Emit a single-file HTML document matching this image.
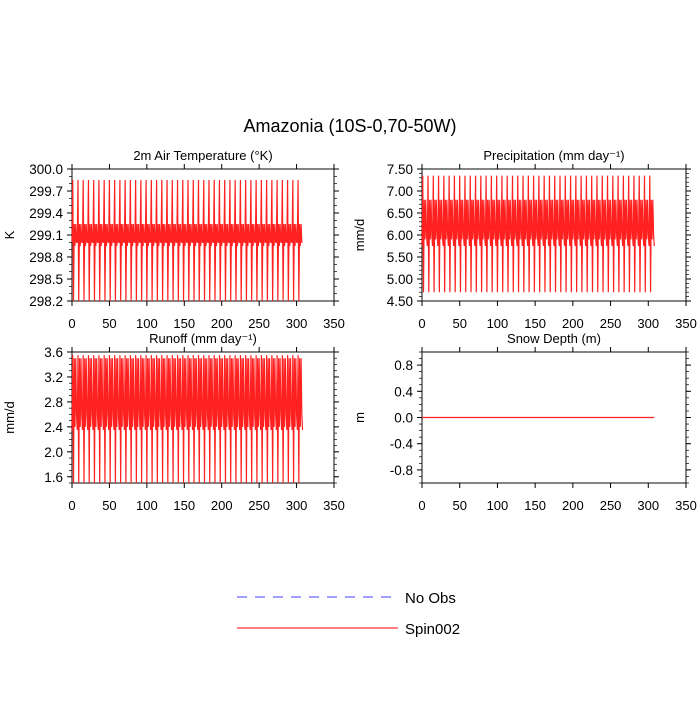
<!DOCTYPE html>
<html><head><meta charset="utf-8"><style>
body{margin:0;background:#fff;}
svg{font-family:"Liberation Sans",Arial,sans-serif;}
</style></head><body>
<svg id="chart" width="700" height="700" viewBox="0 0 700 700">
<rect width="700" height="700" fill="#fff"/>
<text x="350" y="132" font-size="18" text-anchor="middle">Amazonia (10S-0,70-50W)</text>
<g>
<line x1="237" y1="597" x2="393" y2="597" stroke="#4040ff" stroke-width="1" stroke-dasharray="10,8"/>
<text x="405" y="603" font-size="15">No Obs</text>
<line x1="237" y1="628" x2="398" y2="628" stroke="#ff0000" stroke-width="1"/>
<text x="405" y="634" font-size="15">Spin002</text>
</g>
</svg>
<script>
const xTicks=[0,50,100,150,200,250,300,350];
const nPoints=309;
const tempCycle=[299.0,299.85,298.2,299.25,298.95,299.25,299.0];
const precipCycle=[5.75,7.35,4.7,6.8,5.9,6.8,6.0];
const runoffCycle=[2.35,3.55,1.5,3.5,2.4,3.5,2.6];
const snowCycle=[0,0,0,0,0,0,0];
const tempTicks=["298.2","298.5","298.8","299.1","299.4","299.7","300.0"];
const precipTicks=["4.50","5.00","5.50","6.00","6.50","7.00","7.50"];
const runoffTicks=["1.6","2.0","2.4","2.8","3.2","3.6"];
const snowTicks=["-0.8","-0.4","0.0","0.4","0.8"];

const svg=document.getElementById('chart');
const NS='http://www.w3.org/2000/svg';
function mk(tag,attrs,parent){const e=document.createElementNS(NS,tag);for(const k in attrs)e.setAttribute(k,attrs[k]);parent.appendChild(e);return e;}

const panels=[
 {name:'air-temperature',title:'2m Air Temperature (\u00B0K)',ylab:'K',x0:72,x1:334,y0:169,y1:301,ymin:298.2,ymax:300.0,ticks:tempTicks,minor:0.1,cycle:tempCycle},
 {name:'precipitation',title:'Precipitation (mm day\u207B\u00B9)',ylab:'mm/d',x0:422,x1:686,y0:169,y1:301,ymin:4.5,ymax:7.5,ticks:precipTicks,minor:0.1,cycle:precipCycle},
 {name:'runoff',title:'Runoff (mm day\u207B\u00B9)',ylab:'mm/d',x0:72,x1:334,y0:352,y1:483,ymin:1.5,ymax:3.6,ticks:runoffTicks,minor:0.1,cycle:runoffCycle},
 {name:'snow-depth',title:'Snow Depth (m)',ylab:'m',x0:422,x1:686,y0:352,y1:483,ymin:-1.0,ymax:1.0,ticks:snowTicks,minor:0.1,cycle:snowCycle}
];
panels.forEach(p=>{
 const g=mk('g',{},svg);
 
 
 const sx=v=>p.x0+(v-0)/(350-0)*(p.x1-p.x0);
 const sy=v=>p.y1-(v-p.ymin)/(p.ymax-p.ymin)*(p.y1-p.y0);
 const fr=mk('rect',{x:p.x0,y:p.y0,width:p.x1-p.x0,height:p.y1-p.y0,fill:'none',stroke:'#333','stroke-width':1.2},g);
 
 
 let d='';
 for(let i=0;i<nPoints;i++){const v=p.cycle[i%p.cycle.length];d+=(i?'L':'M')+sx(i).toFixed(2)+','+sy(v).toFixed(2);}
 const path=mk('path',{d:d,fill:'none',stroke:'#ff2020','stroke-width':1.2},g);
 
 
 xTicks.forEach(t=>{const x=sx(t);
  mk('line',{x1:x,y1:p.y1,x2:x,y2:p.y1+5,stroke:'#000'},g);
  mk('line',{x1:x,y1:p.y0,x2:x,y2:p.y0-5,stroke:'#000'},g);
  const tx=mk('text',{x:x,y:p.y1+27,'font-size':13,'text-anchor':'middle'},g);tx.textContent=t;
  
  
 });
 p.ticks.forEach(s=>{const y=sy(parseFloat(s));
  mk('line',{x1:p.x0,y1:y,x2:p.x0-5,y2:y,stroke:'#000'},g);
  mk('line',{x1:p.x1,y1:y,x2:p.x1+5,y2:y,stroke:'#000'},g);
  const tx=mk('text',{x:p.x0-9,y:y+5,'font-size':13.5,'text-anchor':'end'},g);tx.textContent=s;
  
  
 });
 const n=Math.round((p.ymax-p.ymin)/p.minor);
 for(let i=0;i<=n;i++){const y=sy(p.ymin+i*p.minor);
  mk('line',{x1:p.x0,y1:y,x2:p.x0-3,y2:y,stroke:'#000','stroke-width':0.7},g);
  mk('line',{x1:p.x1,y1:y,x2:p.x1+3,y2:y,stroke:'#000','stroke-width':0.7},g);}
 const tt=mk('text',{x:(p.x0+p.x1)/2,y:p.y0-9,'font-size':13,'text-anchor':'middle'},g);tt.textContent=p.title;
 
 
 const cy=(p.y0+p.y1)/2;
 const yl=mk('text',{x:0,y:0,'font-size':13,'text-anchor':'middle',transform:`translate(${p.x0-58},${cy}) rotate(-90)`},g);yl.textContent=p.ylab;
 
 
});
</script>
</body></html>
